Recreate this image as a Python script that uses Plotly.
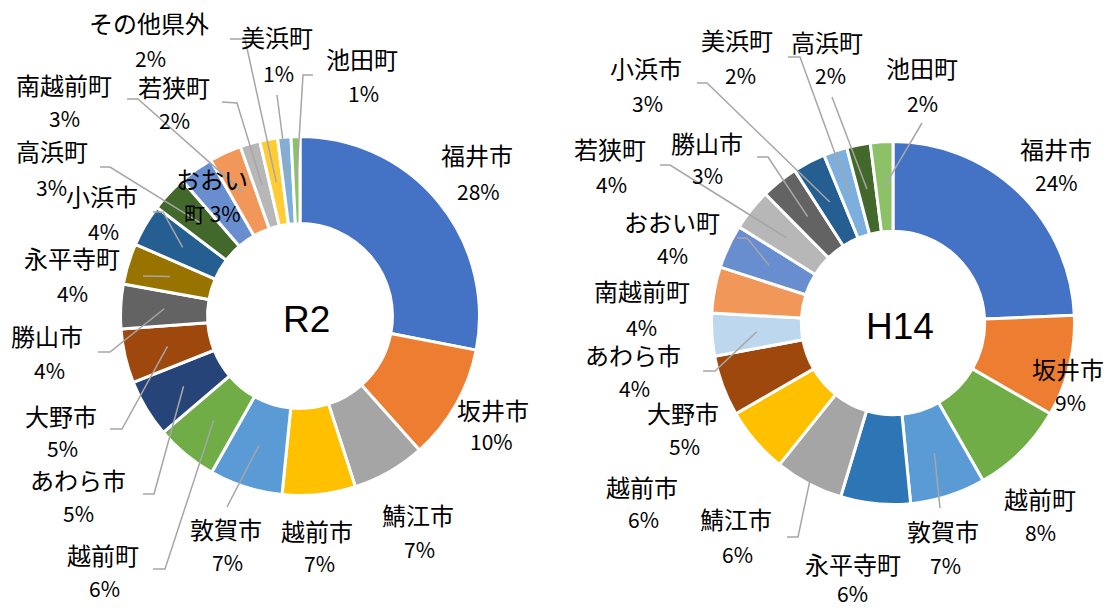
import math
import plotly.graph_objects as go

# ---------------- data ----------------
R2_LABELS = ["福井市", "坂井市", "鯖江市", "越前市", "敦賀市", "越前町", "あわら市", "大野市",
             "勝山市", "永平寺町", "小浜市", "高浜町", "おおい町", "南越前町", "若狭町",
             "その他県外", "美浜町", "池田町"]
R2_SHARE = [28.1, 10.4, 6.6, 6.6, 6.6, 5.6, 5.2, 4.9, 4.0, 3.7, 3.8, 3.3, 3.1, 2.9, 1.8, 1.6, 1.2, 0.8]

H14_LABELS = ["福井市", "坂井市", "越前町", "敦賀市", "永平寺町", "鯖江市", "越前市", "大野市",
              "あわら市", "南越前町", "おおい町", "若狭町", "勝山市", "小浜市", "美浜町",
              "高浜町", "池田町"]
H14_SHARE = [24.3, 9.0, 8.4, 6.7, 6.2, 6.1, 5.9, 5.4, 3.8, 4.1, 3.9, 3.7, 3.3, 2.9, 2.1, 2.1, 2.0]

R2_COLORS = ["#4472C4", "#ED7D31", "#A5A5A5", "#FFC000", "#5B9BD5", "#70AD47", "#264478", "#9E480E",
             "#636363", "#997300", "#255E91", "#43682B", "#698ED0", "#F1975A", "#B7B7B7",
             "#FFCD33", "#7CAFDD", "#8CC168"]
H14_COLORS = ["#4472C4", "#ED7D31", "#70AD47", "#5B9BD5", "#2E75B6", "#A5A5A5", "#FFC000", "#9E480E",
              "#BDD7EE", "#F1975A", "#698ED0", "#B7B7B7", "#636363", "#255E91", "#7CAFDD",
              "#43682B", "#8CC168"]

# ---------------- layout constants (pixels) ----------------
W, H = 1115, 608
PIE_L = dict(cx=300, cy=316, r=179.5, hole=0.515, title="R2")
PIE_R = dict(cx=893, cy=323, r=181.5, hole=0.505, title="H14")

# label positions: name centre (x, y), percent centre (x, y)
R2_LABEL_POS = {
    "福井市": (477, 155, 478, 191), "坂井市": (493, 409, 491, 441), "鯖江市": (418, 514, 419, 549),
    "越前市": (317, 530, 319, 563), "敦賀市": (226, 528, 227, 562), "越前町": (103, 554, 104, 588),
    "あわら市": (78, 479, 78, 513), "大野市": (61, 415, 62, 448), "勝山市": (47, 335, 49, 370),
    "永平寺町": (72, 257, 72, 293), "小浜市": (102, 195, 103, 231), "高浜町": (52, 151, 51, 187),
    "おおい町": (212, 179, 212, 213), "南越前町": (64, 85, 64, 118), "若狭町": (174, 87, 174, 120),
    "その他県外": (149, 23, 150, 58), "美浜町": (277, 37, 278, 73), "池田町": (362, 58, 363, 93),
}
H14_LABEL_POS = {
    "福井市": (1056, 148, 1056, 182), "坂井市": (1068, 368, 1070, 402), "越前町": (1040, 498, 1040, 532),
    "敦賀市": (943, 530, 945, 565), "永平寺町": (853, 563, 852, 593), "鯖江市": (736, 518, 737, 554),
    "越前市": (642, 486, 643, 519), "大野市": (683, 412, 684, 446), "あわら市": (633, 354, 634, 388),
    "南越前町": (642, 290, 641, 327), "おおい町": (672, 222, 672, 255), "若狭町": (610, 149, 611, 184),
    "勝山市": (707, 142, 707, 175), "小浜市": (646, 68, 647, 103), "美浜町": (737, 40, 740, 75),
    "高浜町": (827, 42, 830, 75), "池田町": (922, 68, 922, 103),
}
# leader lines: label-side points, radial position of slice end (0 = inner, 1 = outer)
R2_LEADERS = {
    "南越前町": ([(127, 99), (138, 99)], 0.5), "若狭町": ([(222, 102), (237, 103)], 0.5),
    "その他県外": ([(230, 39), (245, 39)], 0.5), "美浜町": ([(277, 95)], 0.5),
    "池田町": ([(313, 75), (303, 75)], 0.5), "高浜町": ([(100, 167), (110, 167)], 0.5),
    "小浜市": ([(153, 212), (163, 212)], 0.5), "永平寺町": ([(143, 276)], 0.5),
    "勝山市": ([(98, 352), (110, 352)], 0.5), "大野市": ([(110, 429), (122, 429)], 0.5),
    "あわら市": ([(143, 494), (154, 494)], 0.5), "越前町": ([(153, 569), (165, 569)], 0.5),
    "敦賀市": ([(227, 507)], 0.5),
}
H14_LEADERS = {
    "美浜町": ([(788, 57), (800, 57)], 0.5), "高浜町": ([(832, 97)], 0.5),
    "池田町": ([(922, 123)], 0.5), "小浜市": ([(697, 83), (707, 83)], 0.5),
    "勝山市": ([(757, 157), (768, 157)], 0.5), "若狭町": ([(660, 165), (670, 165)], 0.5),
    "おおい町": ([(737, 238), (747, 238)], 0.5), "あわら市": ([(703, 371), (715, 371)], 0.5),
    "鯖江市": ([(787, 537), (798, 537)], 0.97), "敦賀市": ([(940, 508)], 0.5),
}

NAME_FONT = dict(family="Noto Sans CJK JP", size=24, color="#000000")
PCT_FONT = dict(family="Noto Sans CJK JP", size=21, color="#000000")
LINE_COLOR = "#A6A6A6"


def px(x, y):
    return x / W, 1 - y / H


def add_donut(fig, labels, shares, colors, geo):
    x0, y0 = px(geo["cx"] - geo["r"], geo["cy"] + geo["r"])
    x1, y1 = px(geo["cx"] + geo["r"], geo["cy"] - geo["r"])
    fig.add_trace(go.Pie(
        labels=labels, values=shares, sort=False, direction="clockwise", rotation=0,
        hole=geo["hole"], textinfo="none", hoverinfo="label+percent", showlegend=False,
        marker=dict(colors=colors, line=dict(color="white", width=3)),
        domain=dict(x=[x0, x1], y=[y0, y1]),
    ))


def add_labels(fig, labels, shares, geo, label_pos, leaders):
    total = sum(shares)
    cum = 0.0
    mids = {}
    for lab, v in zip(labels, shares):
        mids[lab] = (cum + v / 2) / total * 2 * math.pi
        cum += v
    r_in = geo["r"] * geo["hole"]
    r_out = geo["r"]
    for lab, v in zip(labels, shares):
        pct = f"{round(v / total * 100)}%"
        nx, ny, qx, qy = label_pos[lab]
        if lab == "おおい町" and geo["title"] == "R2":
            name_txt, pct_txt = "おおい", "町 " + pct
        else:
            name_txt, pct_txt = lab, pct
        ax, ay = px(nx, ny)
        fig.add_annotation(x=ax, y=ay, xref="paper", yref="paper", text=name_txt,
                           showarrow=False, xanchor="center", yanchor="middle", font=NAME_FONT)
        bx, by = px(qx, qy)
        fig.add_annotation(x=bx, y=by, xref="paper", yref="paper", text=pct_txt,
                           showarrow=False, xanchor="center", yanchor="middle", font=PCT_FONT)
        if lab in leaders:
            pts, frac = leaders[lab]
            rr = r_in + (r_out - r_in) * frac
            a = mids[lab]
            ex = geo["cx"] + rr * math.sin(a)
            ey = geo["cy"] - rr * math.cos(a)
            allpts = list(pts) + [(ex, ey)]
            path = ""
            for i, (x, y) in enumerate(allpts):
                xp, yp = px(x, y)
                path += ("M" if i == 0 else " L") + f" {xp:.5f} {yp:.5f}"
            fig.add_shape(type="path", path=path, xref="paper", yref="paper",
                          line=dict(color=LINE_COLOR, width=1.5), layer="above")
    cx, cy = px(geo["cx"] + 7, geo["cy"] + 3)
    fig.add_annotation(x=cx, y=cy, xref="paper", yref="paper", text=geo["title"], showarrow=False,
                       xanchor="center", yanchor="middle",
                       font=dict(family="Liberation Sans, Arial", size=37, color="#000000"))


fig = go.Figure()
add_donut(fig, R2_LABELS, R2_SHARE, R2_COLORS, PIE_L)
add_donut(fig, H14_LABELS, H14_SHARE, H14_COLORS, PIE_R)
add_labels(fig, R2_LABELS, R2_SHARE, PIE_L, R2_LABEL_POS, R2_LEADERS)
add_labels(fig, H14_LABELS, H14_SHARE, PIE_R, H14_LABEL_POS, H14_LEADERS)

fig.update_layout(width=W, height=H, margin=dict(l=0, r=0, t=0, b=0),
                  paper_bgcolor="white", plot_bgcolor="white", showlegend=False)
fig.write_html("out.html")
